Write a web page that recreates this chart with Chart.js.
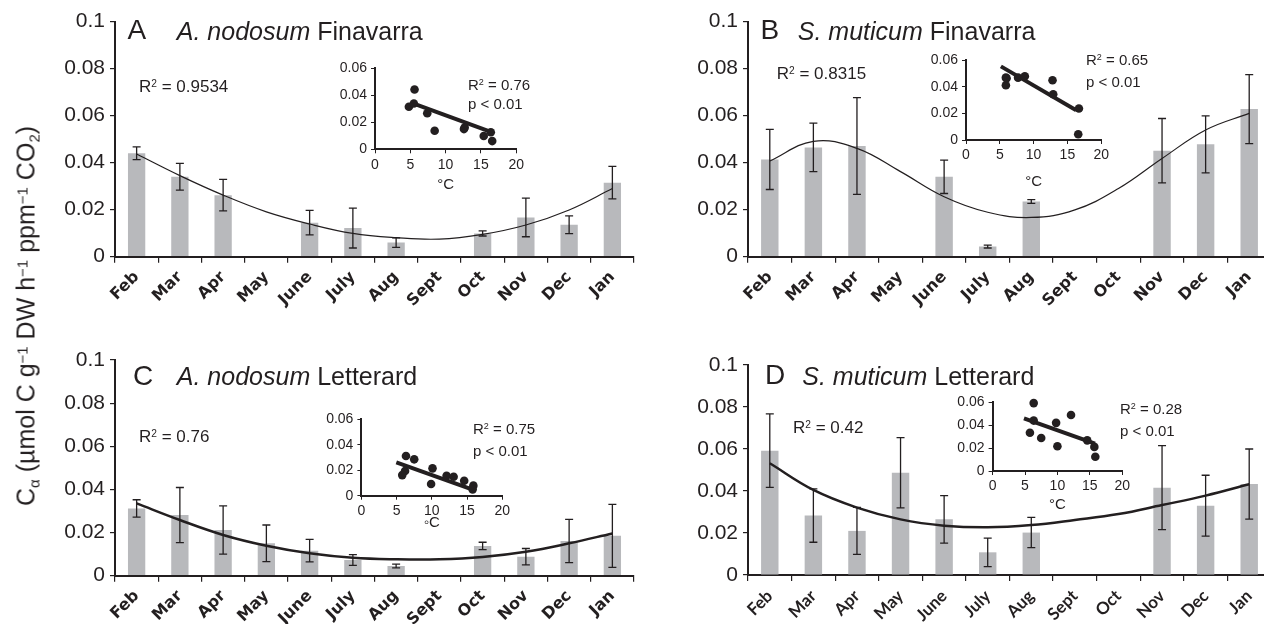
<!DOCTYPE html>
<html>
<head>
<meta charset="utf-8">
<script src="https://cdn.jsdelivr.net/npm/chart.js@4.4.1/dist/chart.umd.min.js"></script>
<style>
body { margin: 0; width: 1264px; height: 624px; overflow: hidden; background: #fff; position: relative;
  font-family: "Liberation Sans", Arial, sans-serif; color: #231f20; }
canvas { position: absolute; }
.t { position: absolute; white-space: nowrap; line-height: 0; }
.sup { font-size: 0.6em; position: relative; top: -0.5em; }
.sub { font-size: 0.6em; position: relative; top: 0.3em; }
#ytitle { position: absolute; left: 26px; top: 316px; white-space: nowrap; font-size: 25px; line-height: 1;
  transform: translate(-50%, -50%) rotate(-90deg); }
</style>
</head>
<body>
<canvas id="cA"></canvas><canvas id="cB"></canvas><canvas id="cC"></canvas><canvas id="cD"></canvas>
<canvas id="iA"></canvas><canvas id="iB"></canvas><canvas id="iC"></canvas><canvas id="iD"></canvas>
<div id="ytitle">C<span class="sub">α</span> (µmol C g<span class="sup">−1</span> DW h<span class="sup">−1</span> ppm<span class="sup">−1</span> CO<span class="sub">2</span>)</div>
<script>
const months = ['Feb', 'Mar', 'Apr', 'May', 'June', 'July', 'Aug', 'Sept', 'Oct', 'Nov', 'Dec', 'Jan'];

// A. nodosum Finavarra
const barsA = [0.044, 0.034, 0.0262, null, 0.0145, 0.0122, 0.006, null, 0.0099, 0.0167, 0.0136, 0.0315];
const errA  = [0.0027, 0.0057, 0.0067, null, 0.0052, 0.0085, 0.002, null, 0.0011, 0.0082, 0.0038, 0.0069];
const fitA  = [0.0437, 0.0345, 0.0262, 0.0191, 0.0139, 0.0099, 0.0081, 0.0075, 0.0095, 0.0135, 0.0199, 0.029];
// S. muticum Finavarra
const barsB = [0.0414, 0.0465, 0.0471, null, 0.034, 0.0043, 0.0235, null, null, 0.0451, 0.0478, 0.0628];
const errB  = [0.0128, 0.0103, 0.0206, null, 0.0071, 0.0006, 0.0008, null, null, 0.0137, 0.0121, 0.0147];
const fitB  = [0.0407, 0.0491, 0.0461, 0.0362, 0.0255, 0.0189, 0.0167, 0.0199, 0.029, 0.0418, 0.0539, 0.061];
// A. nodosum Letterard
const barsC = [0.0312, 0.0281, 0.0212, 0.015, 0.0116, 0.0073, 0.0045, null, 0.0138, 0.0088, 0.0161, 0.0185];
const errC  = [0.004, 0.0128, 0.0112, 0.0085, 0.0052, 0.0025, 0.0009, null, 0.0017, 0.0038, 0.01, 0.0146];
const fitC  = [0.0335, 0.0258, 0.0189, 0.0139, 0.0104, 0.0083, 0.0076, 0.0076, 0.0087, 0.0111, 0.015, 0.0196];
// S. muticum Letterard
const barsD = [0.0592, 0.0283, 0.021, 0.0487, 0.0265, 0.0108, 0.0202, null, null, 0.0416, 0.033, 0.0433];
const errD  = [0.0175, 0.0127, 0.0112, 0.0167, 0.0113, 0.0068, 0.0072, null, null, 0.02, 0.0145, 0.0167];
const fitD  = [0.0532, 0.0405, 0.0321, 0.0265, 0.0235, 0.0227, 0.0238, 0.0262, 0.029, 0.0333, 0.0378, 0.0432];

// insets: temperature (°C) vs Cα
const tempA = [4.8, 5.6, 5.5, 7.4, 8.45, 12.6, 12.7, 15.4, 16.4, 16.6];
const caA   = [0.0316, 0.0444, 0.034, 0.0267, 0.0138, 0.015, 0.0162, 0.0099, 0.0126, 0.0061];
const regA  = [[5.2, 0.0345], [16.6, 0.0125]];
const tempB = [5.9, 5.9, 6.0, 7.7, 8.7, 12.8, 12.9, 16.7, 16.6];
const caB   = [0.047, 0.0413, 0.0465, 0.047, 0.048, 0.045, 0.0345, 0.0238, 0.0043];
const regB  = [[5.16, 0.0555], [16.3, 0.0225]];
const tempC = [6.33, 7.5, 6.2, 5.8, 10.1, 9.9, 12.1, 13.1, 14.6, 15.9, 15.8];
const caC   = [0.0312, 0.0286, 0.0194, 0.0162, 0.0215, 0.0092, 0.0157, 0.0149, 0.0118, 0.0079, 0.005];
const regC  = [[4.96, 0.0262], [15.9, 0.0045]];
const tempD = [6.34, 6.34, 5.76, 7.5, 9.8, 10.0, 12.1, 14.6, 15.7, 15.85];
const caD   = [0.0594, 0.0441, 0.0335, 0.0288, 0.0421, 0.0216, 0.049, 0.0268, 0.0211, 0.0124];
const regD  = [[4.84, 0.0461], [15.8, 0.0239]];

const ink = '#231f20';
const barGrey = '#b8b9bc';

function fmt(v) { return v === 0 ? '0' : String(+v.toFixed(2)); }

// size a canvas so that its chart area lands on `area`
function place(id, area, box) {
  const c = document.getElementById(id);
  c.style.left = box[0] + 'px';
  c.style.top = box[1] + 'px';
  c.width = box[2] - box[0];
  c.height = box[3] - box[1];
  return { c, yW: area[0] - box[0], padT: area[1] - box[1], padR: box[2] - area[2], xH: box[3] - area[3] };
}

const errorBars = {
  id: 'errorBars',
  afterDatasetsDraw(chart) {
    const ds = chart.data.datasets[0];
    if (!ds.errors) return;
    const { ctx, scales: { x, y } } = chart;
    ctx.save();
    ctx.strokeStyle = ink;
    ctx.lineWidth = 1.3;
    ds.data.forEach((v, i) => {
      const e = ds.errors[i];
      if (v == null || e == null) return;
      const px = x.getPixelForValue(i);
      const top = y.getPixelForValue(v + e), bot = y.getPixelForValue(v - e);
      ctx.beginPath();
      ctx.moveTo(px, top); ctx.lineTo(px, bot);
      ctx.moveTo(px - 4, top); ctx.lineTo(px + 4, top);
      ctx.moveTo(px - 4, bot); ctx.lineTo(px + 4, bot);
      ctx.stroke();
    });
    ctx.restore();
  }
};

function mainChart(id, area, box, bars, errs, fit, fitWidth, monthFont) {
  const p = place(id, area, box);
  return new Chart(p.c, {
    data: {
      labels: months,
      datasets: [
        { type: 'bar', data: bars, errors: errs, backgroundColor: barGrey,
          barPercentage: 0.4, categoryPercentage: 1, order: 2 },
        { type: 'line', data: fit, borderColor: ink, borderWidth: fitWidth,
          pointRadius: 0, tension: 0.4, fill: false, order: 1 }
      ]
    },
    options: {
      responsive: false,
      animation: false,
      layout: { padding: { left: 0, top: p.padT, right: p.padR, bottom: 0 } },
      plugins: { legend: { display: false }, tooltip: { enabled: false } },
      scales: {
        x: {
          grid: { drawOnChartArea: false, tickLength: 6, color: ink, lineWidth: 1.2 },
          border: { color: ink, width: 2 },
          ticks: { autoSkip: false, minRotation: 45, maxRotation: 45, padding: 5, color: ink, font: monthFont },
          afterFit: s => { s.height = p.xH; }
        },
        y: {
          min: 0, max: 0.1,
          grid: { drawOnChartArea: false, tickLength: 5, color: ink, lineWidth: 1.2 },
          border: { color: ink, width: 2 },
          ticks: { stepSize: 0.02, padding: 5, color: ink, callback: fmt,
            font: { family: 'Liberation Sans', size: 21 } },
          afterFit: s => { s.width = p.yW; }
        }
      }
    },
    plugins: [errorBars]
  });
}

function insetChart(id, area, box, temps, vals, reg, unit) {
  const p = place(id, area, box);
  return new Chart(p.c, {
    type: 'scatter',
    data: {
      datasets: [
        { data: temps.map((t, i) => ({ x: t, y: vals[i] })), pointRadius: 4.3,
          backgroundColor: ink, borderWidth: 0, clip: false },
        { data: reg.map(r => ({ x: r[0], y: r[1] })), showLine: true, borderColor: ink,
          borderWidth: 4, pointRadius: 0, clip: false }
      ]
    },
    options: {
      responsive: false,
      animation: false,
      layout: { padding: { left: 0, top: p.padT, right: p.padR, bottom: 0 } },
      plugins: { legend: { display: false }, tooltip: { enabled: false } },
      scales: {
        x: {
          type: 'linear', min: 0, max: 20,
          grid: { drawOnChartArea: false, tickLength: 4, color: ink, lineWidth: 1 },
          border: { color: ink, width: 2 },
          ticks: { stepSize: 5, padding: 3, color: ink, font: { family: 'Liberation Sans', size: 14 } },
          title: { display: true, text: unit, color: ink, padding: 0,
            font: { family: 'Liberation Sans', size: 15 } },
          afterFit: s => { s.height = p.xH; }
        },
        y: {
          min: 0, max: 0.06,
          grid: { drawOnChartArea: false, tickLength: 4, color: ink, lineWidth: 1 },
          border: { color: ink, width: 2 },
          ticks: { stepSize: 0.01, padding: 4, color: ink,
            callback: v => Math.round(v * 100) % 2 === 0 ? fmt(v) : '',
            font: { family: 'Liberation Sans', size: 14 } },
          afterFit: s => { s.width = p.yW; }
        }
      }
    }
  });
}

const boldMonths = { family: 'DejaVu Sans', weight: 'bold', size: 16 };
const lightMonths = { family: 'Lato', weight: 'bold', size: 17 };

mainChart('cA', [115, 21.7, 634, 256.7], [40, 0, 650, 310], barsA, errA, fitA, 1.2, boldMonths);
mainChart('cB', [748, 21.7, 1271, 256.7], [672, 0, 1285, 310], barsB, errB, fitB, 1.2, boldMonths);
mainChart('cC', [115, 360, 634, 575.7], [40, 320, 650, 624], barsC, errC, fitC, 2.5, boldMonths);
mainChart('cD', [748, 365, 1271, 575], [672, 320, 1285, 624], barsD, errD, fitD, 2.5, lightMonths);

insetChart('iA', [375, 68.3, 517, 149.3], [320, 56, 527, 194], tempA, caA, regA, '°C');
insetChart('iB', [966, 60, 1101.7, 140], [911, 48, 1112, 191], tempB, caB, regB, '°C');
insetChart('iC', [361.4, 419.3, 502.5, 495.7], [306, 407, 513, 532], tempC, caC, regC, '◦C');
insetChart('iD', [992.6, 401.7, 1122.5, 471], [937, 390, 1133, 514], tempD, caD, regD, '°C');

// panel letters, titles and R² notes: [x, baseline, size, html]
const notes = [
  [127.5, 40, 28, 'A'], [176.8, 40, 25, '<i>A. nodosum</i> Finavarra'],
  [139, 93.3, 17, 'R<span class="sup">2</span> = 0.9534'],
  [468, 90, 15, 'R<span class="sup">2</span> = 0.76'], [468, 109, 15, 'p &lt; 0.01'],
  [760.4, 40, 28, 'B'], [797.8, 40, 25, '<i>S. muticum</i> Finavarra'],
  [776.8, 80, 17, 'R<span class="sup">2</span> = 0.8315'],
  [1086, 65, 15, 'R<span class="sup">2</span> = 0.65'], [1086, 86.7, 15, 'p &lt; 0.01'],
  [132.9, 386, 28, 'C'], [176.8, 385, 25, '<i>A. nodosum</i> Letterard'],
  [139, 443, 17, 'R<span class="sup">2</span> = 0.76'],
  [473, 434, 15, 'R<span class="sup">2</span> = 0.75'], [473, 455.7, 15, 'p &lt; 0.01'],
  [764.9, 385, 28, 'D'], [802.3, 385, 25, '<i>S. muticum</i> Letterard'],
  [793, 434, 17, 'R<span class="sup">2</span> = 0.42'],
  [1120, 414, 15, 'R<span class="sup">2</span> = 0.28'], [1120, 436, 15, 'p &lt; 0.01']
];
notes.forEach(n => {
  const d = document.createElement('div');
  d.className = 't';
  d.style.left = n[0] + 'px';
  d.style.top = (n[1] - 0.3465 * n[2]) + 'px';
  d.style.fontSize = n[2] + 'px';
  d.innerHTML = n[3];
  document.body.appendChild(d);
});
</script>
</body>
</html>
